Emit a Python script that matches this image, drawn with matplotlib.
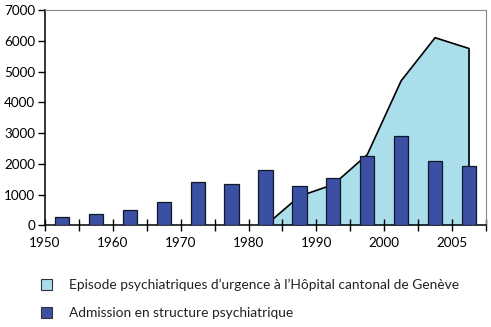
import matplotlib
matplotlib.use("Agg")
import matplotlib.pyplot as plt
from matplotlib.patches import Patch
import numpy as np

# admissions, one bar per period (13 periods 1950-2007)
admissions = [290, 360, 500, 770, 1420, 1350, 1800, 1280, 1540, 2270, 2900, 2100, 1930]
# emergency psychiatric episodes, from period 7 onwards
episode_idx = [6, 7, 8, 9, 10, 11, 12]
episodes = [0, 950, 1330, 2300, 4700, 6100, 5750]
tick_labels = ['1950', '1960', '1970', '1980', '1990', '2000', '2005']
tick_pos = [0, 2, 4, 6, 8, 10, 12]

plt.rcParams['font.family'] = ['Lato', 'DejaVu Sans']

fig = plt.figure(figsize=(4.91, 3.27), dpi=100)
ax = fig.add_axes([0.0917, 0.3104, 0.898, 0.659])

xc = np.arange(len(admissions)) + 0.5
ex = np.array(episode_idx) + 0.5
ax.fill_between(ex, 0, episodes, color='#aadeea', zorder=1)
ax.plot(np.r_[ex, ex[-1]], np.r_[episodes, 0], color='black', lw=1.2, zorder=2)
ax.bar(xc, admissions, width=0.42, color='#3b4fa3', edgecolor='#101828',
       linewidth=0.9, zorder=3)

ax.set_xlim(0, 13)
ax.set_ylim(0, 7000)
ax.set_yticks(np.arange(0, 7001, 1000))
ax.set_xticks(np.arange(0, 14), minor=False)
ax.set_xticklabels([tick_labels[tick_pos.index(i)] if i in tick_pos else ''
                    for i in range(14)])
ax.tick_params(axis='x', direction='inout', length=9, width=1, pad=4,
               labelsize=9.7, colors='black')
ax.tick_params(axis='y', direction='out', length=5, width=1, pad=2,
               labelsize=9.7)
for s in ['left', 'bottom']:
    ax.spines[s].set_linewidth(1.1)
for s in ['top', 'right']:
    ax.spines[s].set_color('#888888')
    ax.spines[s].set_linewidth(0.8)

handles = [Patch(facecolor='#aadeea', edgecolor='#333333', lw=0.8),
           Patch(facecolor='#3b4fa3', edgecolor='#333333', lw=0.8)]
labels = ["Episode psychiatriques d’urgence à l’Hôpital cantonal de Genève",
          "Admission en structure psychiatrique"]
fig.legend(handles, labels, loc='upper left', bbox_to_anchor=(0.07, 0.168),
           frameon=False, fontsize=9.9, handlelength=0.8, handleheight=0.8,
           handletextpad=1.2, labelspacing=1.15, borderpad=0,
           labelcolor='#222222')

fig.savefig('out.png', dpi=100)
